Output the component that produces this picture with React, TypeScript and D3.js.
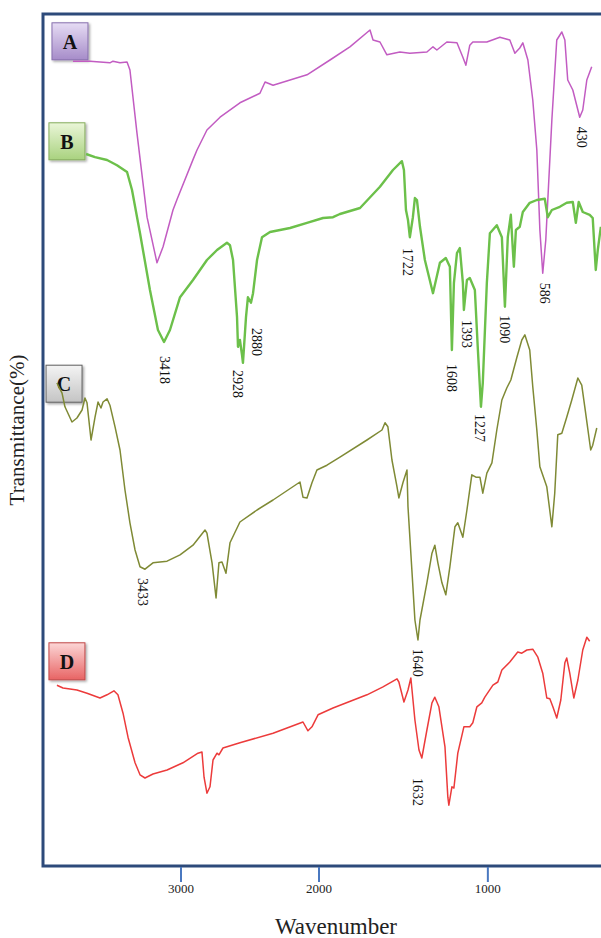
import React from "react";
import * as d3 from "d3";

// Spectrum A (wavenumber, transmittance in stacked arbitrary %)
const specA_wn = [3783, 3659, 3587, 3515, 3493, 3442, 3391, 3370, 3319, 3261, 3246, 3174, 3130, 3058, 3029, 2913, 2884, 2812, 2717, 2573, 2428, 2391, 2333, 2087, 1935, 1817, 1698, 1680, 1639, 1598, 1521, 1462, 1361, 1325, 1302, 1243, 1183, 1148, 1130, 1107, 1089, 1006, 929, 870, 840, 811, 793, 763, 734, 710, 692, 675, 657, 645, 621, 592, 562, 544, 527, 497, 456, 438, 414, 385];
const specA_t = [100.6, 100.6, 100.5, 100.4, 100.6, 100.4, 100.5, 99.5, 91.6, 83.3, 81.1, 75.4, 77.4, 82.0, 83.3, 88.3, 89.5, 92.0, 93.6, 95.4, 96.6, 98.0, 97.6, 98.9, 100.75, 102.4, 104.5, 103.25, 103.0, 101.4, 101.75, 101.6, 101.75, 102.4, 102.0, 103.0, 102.9, 101.1, 100.1, 102.6, 103.0, 103.0, 103.6, 103.25, 101.6, 102.25, 102.9, 100.75, 95.75, 89.5, 79.5, 74.1, 78.25, 83.25, 93.25, 103.25, 104.25, 103.25, 98.25, 97.0, 93.6, 94.5, 98.25, 99.9];

const specB_wn = [3688, 3623, 3536, 3464, 3391, 3355, 3297, 3225, 3167, 3123, 3080, 3007, 2913, 2812, 2739, 2667, 2645, 2623, 2594, 2587, 2573, 2558, 2551, 2529, 2515, 2493, 2478, 2449, 2413, 2355, 2210, 2087, 1976, 1917, 1876, 1757, 1639, 1562, 1509, 1497, 1485, 1473, 1462, 1444, 1432, 1420, 1402, 1373, 1325, 1284, 1249, 1225, 1213, 1201, 1183, 1166, 1148, 1142, 1124, 1107, 1077, 1059, 1041, 1030, 1006, 988, 947, 917, 899, 882, 864, 852, 846, 834, 811, 793, 752, 710, 663, 645, 621, 574, 533, 497, 479, 462, 438, 397, 379, 361, 349, 331];
const specB_t = [89.0, 88.6, 88.25, 87.6, 86.75, 84.5, 79.1, 72.0, 67.0, 65.5, 67.0, 71.1, 73.25, 75.75, 77.0, 77.9, 77.6, 75.75, 68.6, 64.9, 65.75, 63.9, 62.9, 68.6, 71.1, 70.4, 71.6, 75.75, 78.6, 79.25, 79.75, 80.4, 81.0, 81.1, 81.5, 82.25, 84.9, 87.0, 88.1, 87.0, 82.0, 80.75, 78.6, 81.1, 83.5, 83.25, 79.9, 75.75, 71.6, 75.4, 76.0, 74.9, 64.5, 72.9, 76.6, 77.25, 72.9, 69.5, 73.25, 73.5, 72.0, 64.5, 57.4, 60.4, 72.9, 79.1, 80.1, 78.6, 69.9, 78.6, 81.4, 77.0, 74.9, 79.5, 79.9, 81.75, 82.9, 83.25, 83.4, 81.1, 82.0, 82.4, 82.9, 83.0, 80.4, 83.0, 81.75, 81.4, 81.0, 74.5, 77.0, 79.9];

const specC_wn = [3899, 3862, 3841, 3790, 3754, 3717, 3696, 3681, 3652, 3623, 3601, 3580, 3565, 3536, 3515, 3478, 3442, 3406, 3370, 3333, 3297, 3261, 3203, 3101, 3007, 2913, 2826, 2812, 2775, 2746, 2725, 2703, 2674, 2645, 2573, 2449, 2333, 2138, 2116, 2087, 2051, 2015, 1953, 1876, 1716, 1627, 1609, 1592, 1568, 1538, 1527, 1503, 1479, 1473, 1450, 1432, 1414, 1402, 1361, 1331, 1314, 1296, 1272, 1249, 1225, 1195, 1178, 1148, 1124, 1095, 1071, 1047, 1030, 1006, 976, 947, 917, 888, 864, 828, 799, 781, 752, 734, 710, 692, 651, 621, 604, 586, 562, 533, 503, 467, 444, 426, 391, 379, 355];
const specC_t = [60.4, 59.1, 57.4, 55.5, 56.0, 57.0, 58.5, 57.9, 53.25, 56.1, 58.0, 57.25, 58.0, 58.4, 57.6, 54.9, 52.0, 47.0, 42.9, 39.5, 37.4, 37.1, 37.9, 38.1, 38.9, 40.1, 42.0, 41.6, 37.9, 33.5, 37.9, 38.0, 36.6, 40.4, 43.0, 44.5, 45.75, 48.0, 46.1, 46.0, 47.9, 49.5, 50.1, 51.1, 53.25, 54.5, 55.4, 54.9, 50.75, 47.4, 46.0, 47.9, 49.5, 44.9, 37.0, 30.75, 28.25, 30.75, 35.4, 39.1, 40.1, 37.9, 35.4, 33.9, 37.4, 42.4, 42.9, 41.1, 44.5, 48.9, 48.6, 48.6, 46.6, 49.1, 50.4, 54.5, 58.25, 59.75, 60.75, 63.6, 65.75, 66.4, 64.5, 59.9, 54.5, 49.9, 47.4, 42.4, 46.6, 53.9, 54.1, 56.1, 58.25, 61.0, 60.1, 57.4, 52.0, 52.6, 54.75];

const specD_wn = [3899, 3855, 3754, 3681, 3587, 3536, 3486, 3457, 3420, 3384, 3333, 3297, 3261, 3203, 3101, 2986, 2877, 2848, 2833, 2812, 2790, 2768, 2739, 2725, 2696, 2573, 2333, 2116, 2080, 2051, 2007, 1917, 1716, 1621, 1538, 1527, 1497, 1473, 1456, 1432, 1408, 1391, 1361, 1331, 1314, 1290, 1254, 1237, 1231, 1213, 1201, 1178, 1142, 1107, 1089, 1065, 1036, 1018, 970, 941, 917, 870, 823, 799, 769, 734, 704, 675, 651, 633, 615, 592, 568, 544, 533, 515, 491, 467, 438, 414, 397];
const specD_t = [22.6, 22.25, 22.0, 21.6, 21.0, 21.4, 21.9, 21.4, 19.1, 16.1, 12.9, 11.4, 11.0, 11.5, 12.0, 12.9, 14.1, 14.25, 11.1, 9.1, 9.9, 13.25, 14.1, 13.9, 14.75, 15.4, 16.6, 18.0, 16.9, 17.4, 18.9, 19.75, 21.4, 22.4, 23.4, 23.0, 20.5, 22.0, 23.5, 18.25, 14.5, 13.5, 17.0, 20.4, 21.1, 19.9, 14.9, 8.6, 7.6, 9.9, 9.75, 14.1, 17.4, 17.4, 17.9, 19.9, 20.4, 21.1, 22.6, 23.0, 24.5, 25.5, 26.75, 26.6, 27.0, 27.1, 26.1, 24.1, 21.0, 20.9, 19.9, 18.5, 20.75, 25.4, 26.0, 24.1, 21.0, 23.25, 27.0, 28.6, 28.1];

// Peak annotations: text, anchor wavenumber, anchor value
const peakText = ["430", "3418", "2928", "2880", "1722", "1608", "1393", "1227", "1090", "586", "3433", "1640", "1632"];
const peakWn = [444, 3116, 2587, 2449, 1473, 1213, 1124, 1047, 899, 663, 3275, 1414, 1414];
const peakT = [91.1, 62.0, 60.25, 65.5, 75.5, 61.0, 66.5, 54.75, 67.1, 71.6, 34.25, 25.4, 9.25];

// Sample labels: name, box anchor (wavenumber of left edge, value of top)
const sampleNames = ["A", "B", "C", "D"];
const sampleWn = [3935, 3957, 3978, 3957];
const sampleT = [105.4, 92.9, 62.6, 27.9];

const xTicks = [3000, 2000, 1000];

const W = 601, H = 938;

export default function App() {
  const x = d3.scaleLinear().domain([4000, 2000, 330]).range([43, 319, 601]);
  const y = d3.scaleLinear().domain([0, 106.5]).range([866, 14]);
  const line = d3.line<[number, number]>().x(d => x(d[0])).y(d => y(d[1])).curve(d3.curveLinear);
  const mk = (wn: number[], t: number[]) => wn.map((w, i) => [w, t[i]] as [number, number]);

  const series = [
    { d: mk(specA_wn, specA_t), color: "#c25cc2", w: 1.5 },
    { d: mk(specB_wn, specB_t), color: "#6cc04a", w: 2.4 },
    { d: mk(specC_wn, specC_t), color: "#7f8a35", w: 1.5 },
    { d: mk(specD_wn, specD_t), color: "#ec3b3b", w: 1.5 },
  ];
  const boxFill = [
    ["#e6dcf4", "#a68cc9", "#8870ae"],
    ["#eaf6d8", "#a9d27f", "#86ad5d"],
    ["#f4f4f4", "#c4c4c4", "#606060"],
    ["#fcd6d6", "#e86464", "#c24848"],
  ];

  return (
    <svg width={W} height={H} style={{ position: "absolute", left: 0, top: 0, background: "#fff" }} fontFamily="'Liberation Serif', 'Times New Roman', serif">
      <defs>
        {boxFill.map((c, i) => (
          <linearGradient key={i} id={`g${i}`} x1="0" y1="0" x2="0" y2="1">
            <stop offset="0" stopColor={c[0]} />
            <stop offset="1" stopColor={c[1]} />
          </linearGradient>
        ))}
        <filter id="sh" x="-20%" y="-20%" width="150%" height="150%">
          <feDropShadow dx="1.5" dy="1.5" stdDeviation="1" floodColor="#000" floodOpacity="0.35" />
        </filter>
      </defs>
      <rect x={0} y={0} width={W} height={H} fill="#fff" />
      {/* frame */}
      <rect x={43} y={14} width={W + 10} height={852} fill="none" stroke="#2d4a7a" strokeWidth={3} />
      {/* ticks */}
      {xTicks.map(t => (
        <g key={t}>
          <line x1={x(t)} x2={x(t)} y1={867} y2={882} stroke="#4a78c0" strokeWidth={2} />
          <text x={x(t)} y={893} textAnchor="middle" fontSize={13} fill="#222">{t}</text>
        </g>
      ))}
      <text x={336} y={934} textAnchor="middle" fontSize={23} fill="#222">Wavenumber</text>
      <text transform={`translate(24,430) rotate(-90)`} textAnchor="middle" fontSize={21} fill="#222">Transmittance(%)</text>
      {/* sample boxes */}
      {sampleNames.map((n, i) => (
        <g key={n} transform={`translate(${x(sampleWn[i])},${y(sampleT[i])})`}>
          <rect width={36} height={37} fill={`url(#g${i})`} stroke={boxFill[i][2]} strokeWidth={1} filter="url(#sh)" />
          <text x={18} y={26} textAnchor="middle" fontSize={20} fontWeight="bold" fill="#111">{n}</text>
        </g>
      ))}
      {/* spectra */}
      {series.map((s, i) => (
        <path key={i} d={line(s.d) || ""} fill="none" stroke={s.color} strokeWidth={s.w} strokeLinejoin="round" />
      ))}
      {/* peak labels */}
      {peakText.map((p, i) => (
        <text key={i} transform={`translate(${x(peakWn[i])},${y(peakT[i])}) rotate(90)`} textAnchor="middle" dy="0.35em" fontSize={14} fill="#111">{p}</text>
      ))}
    </svg>
  );
}
